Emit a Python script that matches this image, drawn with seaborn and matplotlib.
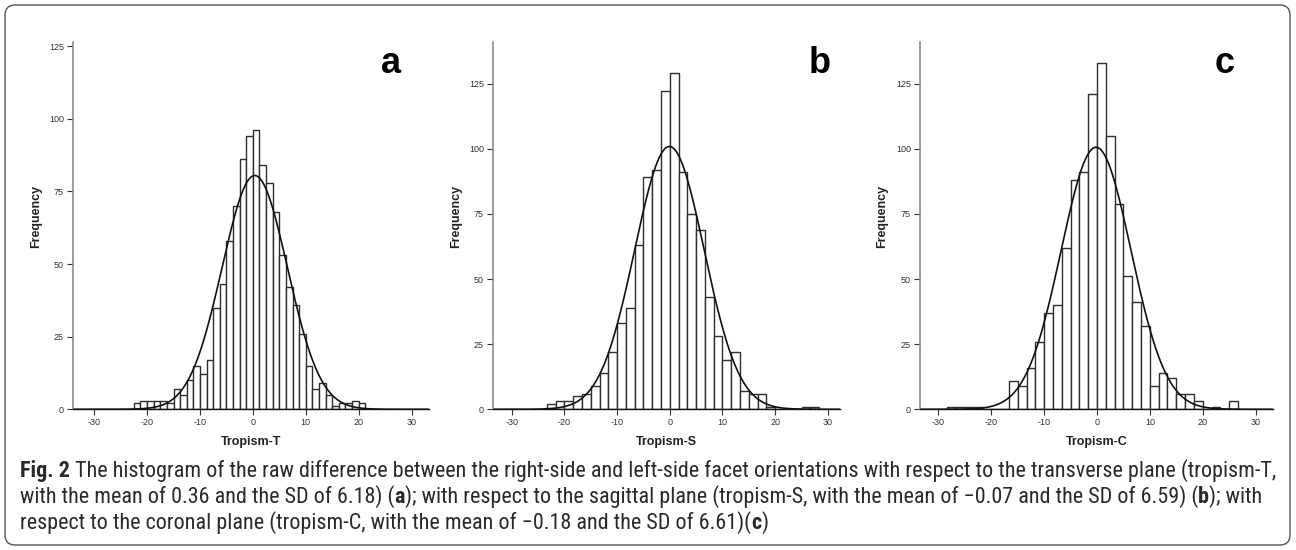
import numpy as np
import pandas as pd
import matplotlib
matplotlib.use("Agg")
import matplotlib.pyplot as plt
import seaborn as sns
from matplotlib import font_manager
from matplotlib.patches import FancyBboxPatch
from matplotlib.transforms import IdentityTransform

# histogram counts (left to right)
counts_t = [2, 3, 3, 3, 3, 2, 7, 5, 10, 15, 12, 17, 35, 43, 58, 70, 86, 94,
            96, 84, 78, 68, 53, 42, 36, 26, 15, 7, 9, 5, 1, 2, 2, 3, 2]
counts_s = [2, 3, 3, 5, 6, 9, 14, 22, 33, 39, 63, 89, 92, 122,
            129, 91, 75, 69, 43, 28, 19, 22, 7, 6, 6, 1, 0, 0, 0, 1, 1]
counts_c = [1, 1, 1, 1, 0, 0, 0, 11, 9, 16, 26, 37, 40, 62, 88, 91, 121,
            133, 105, 79, 51, 41, 32, 9, 14, 12, 6, 6, 3, 0, 1, 0, 3]

# first bin edge and bin width of each histogram
bin_start = [-22.5, -14 * 5 / 3, -17 * 5 / 3]
bin_width = [1.25, 5 / 3, 5 / 3]

# mean and SD from the caption
means = [0.36, -0.07, -0.18]
sds = [6.18, 6.59, 6.61]

x_labels = ["Tropism-T", "Tropism-S", "Tropism-C"]
panel_letters = ["a", "b", "c"]
x_ticks = [-30, -20, -10, 0, 10, 20, 30]
y_ticks = [0, 25, 50, 75, 100, 125]

sns.set_style("white")
plt.rcParams["font.family"] = ["Liberation Sans", "DejaVu Sans"]
plt.rcParams["axes.unicode_minus"] = False

names = {f.name for f in font_manager.fontManager.ttflist}
cap_font = next((n for n in ["Liberation Sans Narrow", "Roboto Condensed",
                             "Open Sans Condensed"] if n in names), None)

W, H = 1296, 550
fig = plt.figure(figsize=(W / 100, H / 100), dpi=100)

# axes boxes in pixels: left, right; all share top/bottom
ax_px = [(73, 429), (493, 840), (920, 1273)]
top_px, bot_px = 42, 409.3
xlims = [(-34, 33.3), (-33.55, 32.3), (-33.5, 33.3)]
ylims = [(0, 126.4), (0, 141), (0, 141)]
letter_x = [391, 820, 1225]
ylabel_x = [36, 456, 882]

all_counts = [counts_t, counts_s, counts_c]
for i in range(3):
    l, r = ax_px[i]
    ax = fig.add_axes([l / W, 1 - bot_px / H, (r - l) / W, (bot_px - top_px) / H])
    counts = np.array(all_counts[i])
    edges = bin_start[i] + bin_width[i] * np.arange(len(counts) + 1)
    centers = (edges[:-1] + edges[1:]) / 2
    df = pd.DataFrame({"x": centers, "n": counts})
    sns.histplot(data=df, x="x", weights="n", bins=edges.tolist(), ax=ax,
                 color="white", edgecolor="#2e2e2e", linewidth=1.0, alpha=1)

    # fitted normal curve scaled to counts
    xs = np.linspace(xlims[i][0], xlims[i][1], 400)
    ys = counts.sum() * bin_width[i] / (sds[i] * np.sqrt(2 * np.pi)) * \
        np.exp(-0.5 * ((xs - means[i]) / sds[i]) ** 2)
    sns.lineplot(x=xs, y=ys, ax=ax, color="#111111", linewidth=1.2)

    ax.set_xlim(*xlims[i])
    ax.set_ylim(*ylims[i])
    ax.set_xticks(x_ticks)
    ax.set_yticks(y_ticks)
    ax.tick_params(axis="both", direction="out", length=4, width=0.8,
                   color="#333333", labelsize=6.5, labelcolor="#333333", pad=2.5)
    ax.tick_params(axis="x", bottom=True)
    ax.tick_params(axis="y", left=True)
    sns.despine(ax=ax)
    ax.spines["left"].set_color("#8c8c8c")
    ax.spines["left"].set_linewidth(1.2)
    ax.spines["bottom"].set_color("#111111")
    ax.spines["bottom"].set_linewidth(1.0)
    ax.set_facecolor("white")

    ax.set_xlabel(x_labels[i], fontsize=9, fontweight="bold", color="#222222")
    ax.set_ylabel("Frequency", fontsize=9, fontweight="bold", color="#222222")
    ax.yaxis.set_label_coords((ylabel_x[i] - l) / (r - l), 0.526)
    ax.xaxis.set_label_coords(0.5, -(442 - bot_px) / (bot_px - top_px))
    ax.xaxis.label.set_va("center")
    ax.yaxis.label.set_va("center")

    fig.text(letter_x[i] / W, 1 - 73 / H, panel_letters[i], fontsize=26,
             fontweight="bold", ha="center", va="baseline", color="black")

# caption, drawn segment by segment so bold parts can be mixed in
lines = [
    [("Fig. 2", True), (" The histogram of the raw difference between the right-side and left-side facet orientations with respect to the transverse plane (tropism-T,", False)],
    [("with the mean of 0.36 and the SD of 6.18) (", False), ("a", True), ("); with respect to the sagittal plane (tropism-S, with the mean of \u22120.07 and the SD of 6.59) (", False), ("b", True), ("); with", False)],
    [("respect to the coronal plane (tropism-C, with the mean of \u22120.18 and the SD of 6.61)(", False), ("c", True), (")", False)],
]
fam = [cap_font, "Liberation Sans", "DejaVu Sans"] if cap_font else ["Liberation Sans", "DejaVu Sans"]
renderer = fig.canvas.get_renderer()


def draw_line(segs, y, size, draw=True):
    x = 20
    made = []
    for txt, bold in segs:
        t = fig.text(x / W, 1 - y / H, txt, fontsize=size, family=fam,
                     fontweight="bold" if bold else "normal",
                     va="center", ha="left", color="#2a2a2a")
        x = t.get_window_extent(renderer).x1
        made.append(t)
    if not draw:
        for t in made:
            t.remove()
    return x


end = draw_line(lines[0], 471, 12, draw=False)
size = 12 * (1275 - 20) / (end - 20)
for segs, y in zip(lines, [471, 497, 523]):
    draw_line(segs, y, size)

box = FancyBboxPatch((5, 5), W - 11, H - 10,
                     boxstyle="round,pad=0,rounding_size=10",
                     transform=IdentityTransform(), fill=False,
                     edgecolor="#555555", linewidth=1.0)
fig.patches.append(box)

fig.savefig("out.png", dpi=100, facecolor="white")
